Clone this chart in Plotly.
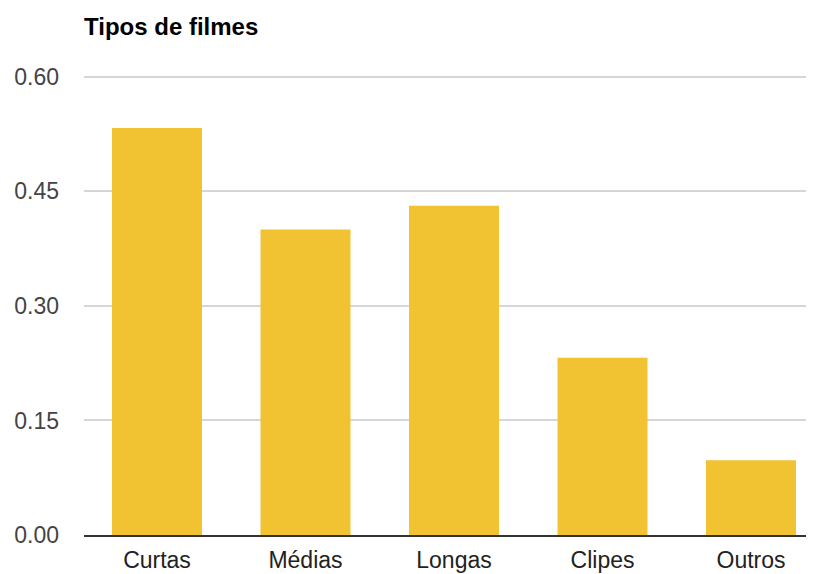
import plotly.graph_objects as go

categories = ["Curtas", "Médias", "Longas", "Clipes", "Outros"]
values = [0.533, 0.400, 0.431, 0.232, 0.098]
tick_vals = [0.0, 0.15, 0.30, 0.45, 0.60]
tick_text = ["0.00", "0.15", "0.30", "0.45", "0.60"]

W, H = 806, 566  # page body adds an 8px offset

fig = go.Figure(go.Bar(x=categories, y=values, marker=dict(color="#F1C232", line=dict(width=0))))

fig.update_layout(
    width=W, height=H,
    margin=dict(l=76, r=0, t=65, b=39),
    paper_bgcolor="white", plot_bgcolor="white",
    bargap=0.394,
    showlegend=False,
    font=dict(family="Liberation Sans, Arial, sans-serif", size=23, color="#222"),
    title=dict(text="<b>Tipos de filmes</b>", x=76/W, xanchor="left", y=1-19/H, yanchor="middle",
               font=dict(size=24, color="#000")),
)
fig.update_xaxes(
    type="category", range=[-0.4916, 4.4242],
    showgrid=False, showline=True, linecolor="#333", linewidth=2,
    ticks="", tickfont=dict(size=23, color="#222"), ticklabelstandoff=3,
)
fig.update_yaxes(
    range=[0, 0.605], tickvals=tick_vals, ticktext=tick_text,
    showgrid=True, gridcolor="#d6d6d6", gridwidth=1.5, zeroline=False,
    showline=False, ticks="", tickfont=dict(size=23, color="#444"), ticklabelstandoff=24,
)

fig.write_html("out.html")
